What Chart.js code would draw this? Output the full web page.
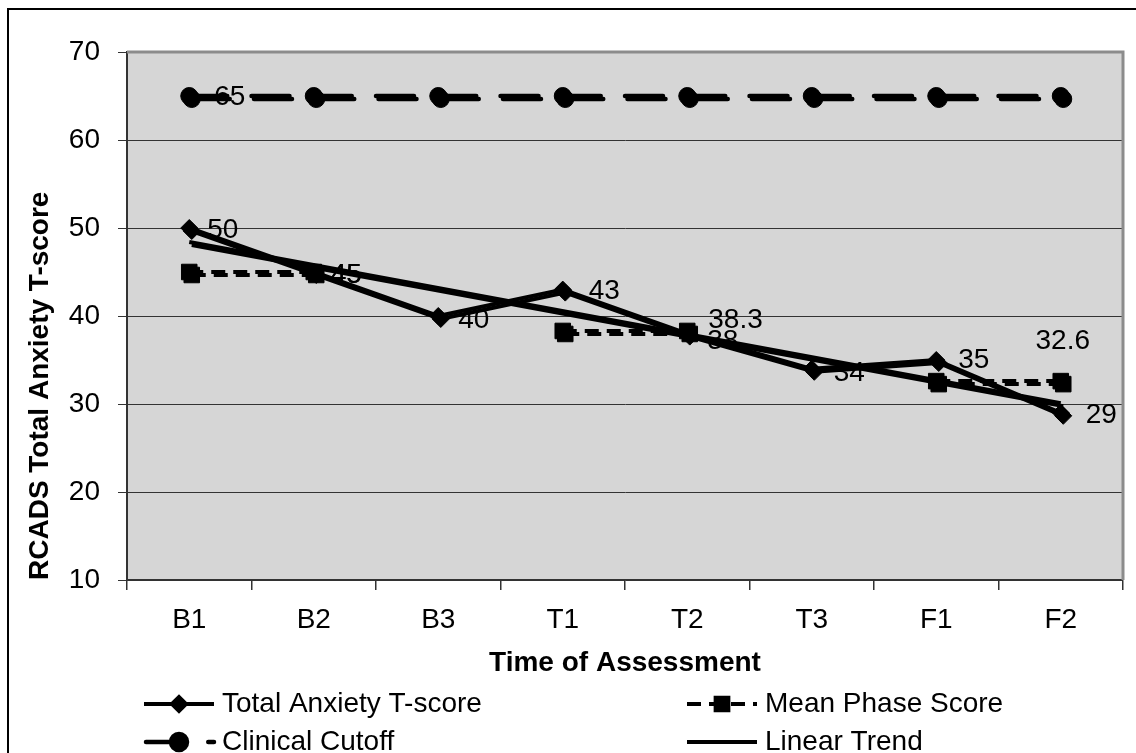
<!DOCTYPE html>
<html><head><meta charset="utf-8">
<script src="https://cdn.jsdelivr.net/npm/chart.js@4"></script>
<style>html,body{margin:0;padding:0;background:#fff;}canvas{display:block;}</style>
</head><body>
<canvas id="c" width="1136" height="753"></canvas>
<script>
const categories = ['B1','B2','B3','T1','T2','T3','F1','F2'];
const totalAnxiety = [50, 45, 40, 43, 38, 34, 35, 29];
const meanPhase = [45, 45, null, 38.3, 38.3, null, 32.6, 32.6];
const clinicalCutoff = [65, 65, 65, 65, 65, 65, 65, 65];
const linearTrend = [48.4, null, null, null, null, null, null, 30.1];
const yTicks = [10, 20, 30, 40, 50, 60, 70];
const xTitle = 'Time of Assessment';
const yTitle = 'RCADS Total Anxiety T-score';

const FONT = '"Liberation Sans", Arial, sans-serif';

const labelSpec = [
  [{i:0,dx:18,dy:2},{i:1,dx:17,dy:3},{i:2,dx:20,dy:4},{i:3,dx:26,dy:2},{i:4,dx:20,dy:8},{i:5,dx:22,dy:4},{i:6,dx:22,dy:0},{i:7,dx:25,dy:2}],
  [{i:1,dx:17,dy:3},{i:4,dx:21,dy:-11},{i:7,dx:2,dy:-40,align:'center'}],
  [{i:0,dx:25,dy:1}],
  []
];

const decorPlugin = {
  id: 'decor',
  beforeDraw(chart) {
    const {ctx, chartArea: a} = chart;
    ctx.save();
    ctx.fillStyle = '#d6d6d6';
    ctx.fillRect(a.left, a.top, a.right - a.left, a.bottom - a.top);
    ctx.restore();
  },
  beforeDatasetsDraw(chart) {
    const {ctx, chartArea: a} = chart;
    ctx.save();
    ctx.strokeStyle = '#8c8c8c';
    ctx.lineWidth = 3;
    ctx.beginPath();
    ctx.moveTo(a.left, a.top);
    ctx.lineTo(a.right, a.top);
    ctx.lineTo(a.right, a.bottom);
    ctx.stroke();
    ctx.restore();
    ctx.save();
    ctx.shadowColor = 'rgba(0,0,0,1)';
    ctx.shadowOffsetX = 2.5;
    ctx.shadowOffsetY = 3;
    ctx.shadowBlur = 0;
  },
  afterDatasetsDraw(chart) {
    const {ctx} = chart;
    ctx.restore();
    ctx.save();
    ctx.fillStyle = '#000';
    ctx.font = '28px ' + FONT;
    ctx.textBaseline = 'middle';
    chart.data.datasets.forEach((d, di) => {
      const meta = chart.getDatasetMeta(di);
      (labelSpec[di] || []).forEach(s => {
        const el = meta.data[s.i];
        const v = d.data[s.i];
        if (!el || v == null) return;
        ctx.textAlign = s.align || 'left';
        ctx.fillText(String(v), el.x + s.dx, el.y + s.dy);
      });
    });
    ctx.restore();
  },
  afterDraw(chart) {
    const {ctx} = chart;
    ctx.save();
    ctx.strokeStyle = '#000';
    ctx.lineWidth = 2;
    ctx.beginPath();
    ctx.moveTo(8, 753);
    ctx.lineTo(8, 9);
    ctx.lineTo(1136, 9);
    ctx.stroke();
    const slots = [[144, 704], [687, 704], [144, 742], [687, 742]];
    const sampleLen = 70;
    chart.data.datasets.forEach((d, di) => {
      const [x, y] = slots[di];
      ctx.save();
      ctx.strokeStyle = '#000';
      ctx.lineWidth = d.borderWidth;
      ctx.lineCap = d.borderCapStyle || 'butt';
      ctx.setLineDash(d.borderDash || []);
      ctx.beginPath();
      ctx.moveTo(x + (ctx.lineCap === 'round' ? 2 : 0), y);
      ctx.lineTo(x + sampleLen, y);
      ctx.stroke();
      ctx.setLineDash([]);
      if (d.pointRadius > 0) {
        ctx.fillStyle = '#000';
        Chart.helpers.drawPoint(ctx, {pointStyle: d.pointStyle, radius: d.legendRadius || d.pointRadius, rotation: 0, borderWidth: 1}, x + 35, y);
      }
      ctx.fillStyle = '#000';
      ctx.font = '28px ' + FONT;
      ctx.textAlign = 'left';
      ctx.textBaseline = 'middle';
      ctx.fillText(d.label, x + 78, y);
      ctx.restore();
    });
    ctx.restore();
  }
};

new Chart(document.getElementById('c'), {
  type: 'line',
  data: {
    labels: categories,
    datasets: [
      {label: 'Total Anxiety T-score', data: totalAnxiety, borderColor: '#000', backgroundColor: '#000',
       borderWidth: 4, pointStyle: 'rectRot', pointRadius: 8.5, legendRadius: 7,
       pointBackgroundColor: '#000', pointBorderColor: '#000', pointBorderWidth: 1, tension: 0},
      {label: 'Mean Phase Score', data: meanPhase, borderColor: '#000', backgroundColor: '#000',
       borderWidth: 4, borderDash: [14, 8], pointStyle: 'rect', pointRadius: 11, legendRadius: 9,
       pointBackgroundColor: '#000', pointBorderColor: '#000', pointBorderWidth: 1, spanGaps: false},
      {label: 'Clinical Cutoff', data: clinicalCutoff, borderColor: '#000', backgroundColor: '#000',
       borderWidth: 4.5, borderDash: [38, 24.25], borderCapStyle: 'round', pointStyle: 'circle', pointRadius: 8.5, legendRadius: 8,
       pointBackgroundColor: '#000', pointBorderColor: '#000', pointBorderWidth: 1},
      {label: 'Linear Trend', data: linearTrend, borderColor: '#000', backgroundColor: '#000',
       borderWidth: 4, pointRadius: 0, spanGaps: true}
    ]
  },
  options: {
    responsive: false,
    animation: false,
    events: [],
    layout: {padding: {left: 0, top: 52, right: 13, bottom: 73}},
    plugins: {legend: {display: false}, tooltip: {enabled: false}},
    scales: {
      x: {
        type: 'category', offset: true,
        grid: {offset: true, drawOnChartArea: false, drawTicks: true, tickLength: 10, color: '#333', lineWidth: 1.5},
        border: {display: true, color: '#333', width: 1.5},
        ticks: {font: {family: FONT, size: 28}, color: '#000', padding: 13, maxRotation: 0, autoSkip: false},
        title: {display: true, text: xTitle, color: '#000', font: {family: FONT, size: 28, weight: 'bold'}, padding: 0},
        afterFit(s) { s.height = 100; }
      },
      y: {
        min: 10, max: 70,
        afterBuildTicks(s) { s.ticks = yTicks.map(v => ({value: v})); },
        ticks: {font: {family: FONT, size: 28}, color: '#000', padding: 18},
        grid: {color: '#333', lineWidth: 1, tickLength: 9},
        border: {display: true, color: '#333', width: 2},
        title: {display: true, text: yTitle, align: 'start', color: '#000', font: {family: FONT, size: 28, weight: 'bold'}, padding: {top: 23, bottom: 0}},
        afterFit(s) { s.width = 127; }
      }
    }
  },
  plugins: [decorPlugin]
});
</script>
</body></html>
